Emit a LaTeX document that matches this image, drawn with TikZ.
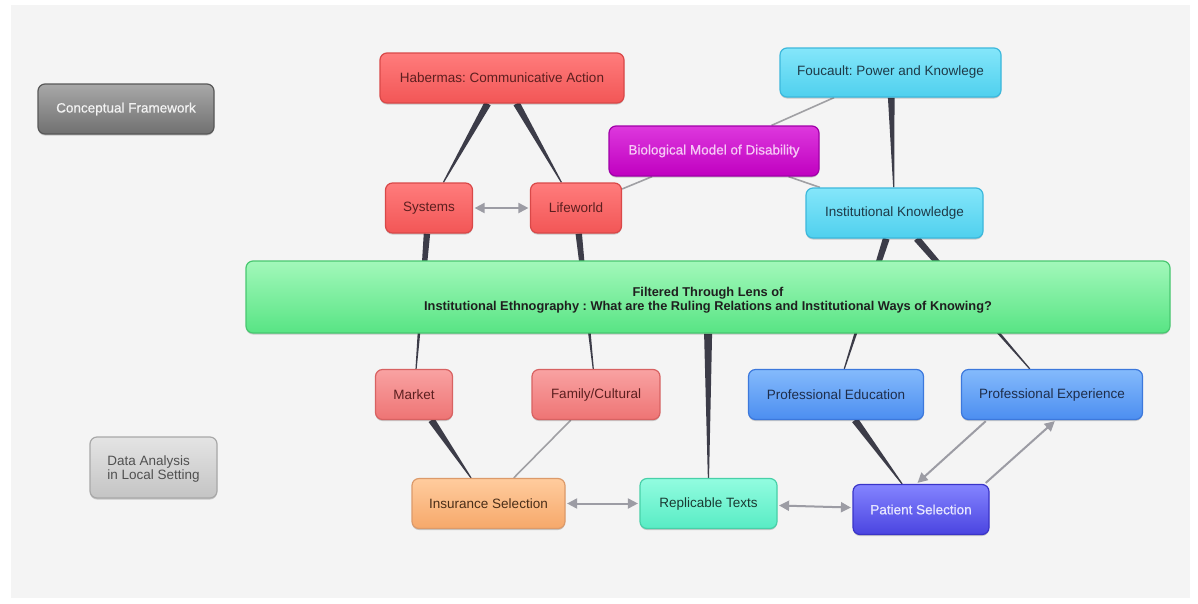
\documentclass[tikz,border=0pt]{standalone}
\usepackage{fontspec}
\setmainfont{Liberation Sans}
\newfontfamily\condfont{Liberation Sans}
\newfontfamily\medfont{Liberation Sans}[FakeBold=0.8]
\usetikzlibrary{calc,arrows.meta,shadows}
\pgfdeclarelayer{back}\pgfdeclarelayer{bg}\pgfsetlayers{back,bg,main}
\frenchspacing
\definecolor{pagebg}{HTML}{F4F4F4}
\definecolor{redT}{HTML}{FF7C7C}\definecolor{redB}{HTML}{F25656}\definecolor{redD}{HTML}{D94848}\definecolor{redTx}{HTML}{5C1F1F}
\definecolor{pinkT}{HTML}{F9A2A2}\definecolor{pinkB}{HTML}{EE7474}\definecolor{pinkD}{HTML}{D86262}
\definecolor{bioT}{HTML}{DD38DD}\definecolor{bioB}{HTML}{C000C0}\definecolor{bioD}{HTML}{A000A8}\definecolor{bioTx}{HTML}{F6C8F6}
\definecolor{cyT}{HTML}{84E6FA}\definecolor{cyB}{HTML}{4FD0EE}\definecolor{cyD}{HTML}{3CB8DC}\definecolor{cyTx}{HTML}{1E3A48}
\definecolor{grT}{HTML}{A2F8BA}\definecolor{grB}{HTML}{58E484}\definecolor{grD}{HTML}{48C870}
\definecolor{blT}{HTML}{84BAFC}\definecolor{blB}{HTML}{4C8EF0}\definecolor{blD}{HTML}{3C78DC}\definecolor{blTx}{HTML}{1E2D4A}
\definecolor{paT}{HTML}{8484FF}\definecolor{paB}{HTML}{4A44E0}\definecolor{paD}{HTML}{3A34C8}\definecolor{paTx}{HTML}{E6E6FF}
\definecolor{rpT}{HTML}{92FCE0}\definecolor{rpB}{HTML}{58ECC4}\definecolor{rpD}{HTML}{48D0A8}\definecolor{rpTx}{HTML}{1A3A32}
\definecolor{inT}{HTML}{FFCC9E}\definecolor{inB}{HTML}{F6A86A}\definecolor{inD}{HTML}{DC9A6A}\definecolor{inTx}{HTML}{4A2E18}
\definecolor{cfT}{HTML}{A8A8A8}\definecolor{cfB}{HTML}{707070}\definecolor{cfD}{HTML}{585858}
\definecolor{daT}{HTML}{E4E4E4}\definecolor{daB}{HTML}{C4C4C4}\definecolor{daD}{HTML}{A8A8A8}\definecolor{daTx}{HTML}{505050}
\definecolor{taperc}{HTML}{3C3C48}
\definecolor{thinc}{HTML}{A0A0A4}
\definecolor{arrc}{HTML}{9C9CA4}
\newcommand\tconn[3]{%
  \path (#1) -- coordinate[pos=0] (tA) coordinate[pos=1] (tB) (#2);
  \fill[taperc] ($(tA)!#3!90:(tB)$) -- ($(tA)!#3!-90:(tB)$) -- ($(tB)!0.6pt!90:(tA)$) -- ($(tB)!0.6pt!-90:(tA)$) -- cycle;}
\tikzset{
  box/.style={draw, rounded corners=7pt, line width=1.2pt, inner sep=0pt, align=center,
    font=\fontsize{13.5}{15}\selectfont,
    drop shadow={shadow xshift=0pt, shadow yshift=-1.5pt, opacity=0.18, fill=black}},
  redbox/.style={box, top color=redT, bottom color=redB, draw=redD, text=redTx},
  pinkbox/.style={box, top color=pinkT, bottom color=pinkB, draw=pinkD, text=redTx},
  biobox/.style={box, top color=bioT, bottom color=bioB, draw=bioD, text=bioTx, font=\medfont\fontsize{13.5}{15}\selectfont},
  cybox/.style={box, top color=cyT, bottom color=cyB, draw=cyD, text=cyTx},
  grbox/.style={box, top color=grT, bottom color=grB, draw=grD, text=black!88},
  blbox/.style={box, top color=blT, bottom color=blB, draw=blD, text=blTx},
  pabox/.style={box, top color=paT, bottom color=paB, draw=paD, text=paTx, font=\medfont\fontsize{13.5}{15}\selectfont},
  rpbox/.style={box, top color=rpT, bottom color=rpB, draw=rpD, text=rpTx},
  inbox/.style={box, top color=inT, bottom color=inB, draw=inD, text=inTx},
  cfbox/.style={box, top color=cfT, bottom color=cfB, draw=cfD, text=white!95!black, font=\medfont\fontsize{13.5}{15}\selectfont},
  dabox/.style={box, top color=daT, bottom color=daB, draw=daD, text=daTx},
  thinline/.style={draw=thinc, line width=1.6pt},
  garrow/.style={draw=arrc, line width=2pt, shorten <=1.5pt, shorten >=1.5pt,
    arrows={-Triangle[length=10pt,width=10pt]}},
  gdarrow/.style={garrow, arrows={Triangle[length=10pt,width=10pt]-Triangle[length=10pt,width=10pt]}},
}
\begin{document}
\begin{tikzpicture}[x=1pt,y=-1pt]
\useasboundingbox (0,0) rectangle (1198,603);
\begin{pgfonlayer}{back}
\fill[white] (0,0) rectangle (1198,603);
\fill[pagebg] (11,5) rectangle (1190,598);
\end{pgfonlayer}

% nodes
\node[cfbox, minimum width=176pt, minimum height=50pt] (cf) at (126,109) {Conceptual Framework};
\node[dabox, minimum width=127pt, minimum height=61pt, font=\fontsize{13.5}{13.5}\selectfont] (da) at (153.5,467.5)
  {\raisebox{-2.5pt}[\height][\depth]{\begin{tabular}{@{}l@{}}Data Analysis\\in Local Setting\end{tabular}}};
\node[redbox, minimum width=244pt, minimum height=50pt] (hab) at (502,78) {Habermas: Communicative Action};
\node[redbox, minimum width=87pt, minimum height=50pt] (sys) at (429,208) {Systems};
\node[redbox, minimum width=91pt, minimum height=50pt] (life) at (576,208) {Lifeworld};
\node[biobox, minimum width=210pt, minimum height=50pt] (bio) at (714,151) {Biological Model of Disability};
\node[cybox, minimum width=221pt, minimum height=49pt] (fou) at (890.5,72.5) {Foucault: Power and Knowlege};
\node[cybox, minimum width=177pt, minimum height=50pt] (ik) at (894.5,213) {Institutional Knowledge};
\node[grbox, minimum width=924pt, minimum height=72pt, font=\condfont\bfseries\fontsize{12.8}{14}\selectfont] (lens) at (708,297)
  {\raisebox{-4pt}[\height][\depth]{\begin{tabular}{@{}c@{}}Filtered Through Lens of\\Institutional Ethnography : What are the Ruling Relations and Institutional Ways of Knowing?\end{tabular}}};
\node[pinkbox, minimum width=77pt, minimum height=50pt] (mkt) at (414,394.5) {Market};
\node[pinkbox, minimum width=128pt, minimum height=50pt] (fam) at (596,394.5) {Family/Cultural};
\node[blbox, minimum width=175pt, minimum height=50pt] (ped) at (836,394.5) {Professional Education};
\node[blbox, minimum width=181pt, minimum height=50pt] (pex) at (1052,394.5) {Professional Experience};
\node[inbox, minimum width=153pt, minimum height=50pt] (ins) at (488.5,503.5) {Insurance Selection};
\node[rpbox, minimum width=137pt, minimum height=50pt] (rep) at (708.5,503.5) {Replicable Texts};
\node[pabox, minimum width=136pt, minimum height=50pt] (pat) at (921,509.5) {Patient Selection};

% connectors
\begin{pgfonlayer}{bg}
\tconn{hab}{sys}{3.5pt}
\tconn{hab}{life}{3.5pt}
\tconn{fou}{ik}{3.3pt}
\tconn{sys}{mkt}{3.2pt}
\tconn{life}{fam}{3.2pt}
\tconn{ik}{ped}{3.4pt}
\tconn{ik}{pex}{3.4pt}
\tconn{lens}{rep}{4pt}
\tconn{mkt}{ins}{3.5pt}
\tconn{ped}{pat}{3.5pt}
\draw[thinline] (life) -- (bio);
\draw[thinline] (fou) -- (bio);
\draw[thinline] (bio) -- (ik);
\draw[thinline] (fam) -- (ins);
\end{pgfonlayer}
\draw[gdarrow] (sys) -- (life);
\draw[gdarrow] (ins) -- (rep);
\draw[gdarrow] (rep) -- (pat);
\coordinate (e1) at ($(pex.south west)+(26,0)$);
\coordinate (p1) at ($(pat.north west)+(64,0)$);
\coordinate (p2) at ($(pat.north east)+(-5,0)$);
\coordinate (e2) at ($(pex.south west)+(95,0)$);
\draw[garrow] (e1) -- (p1);
\draw[garrow] (p2) -- (e2);
\end{tikzpicture}
\end{document}
